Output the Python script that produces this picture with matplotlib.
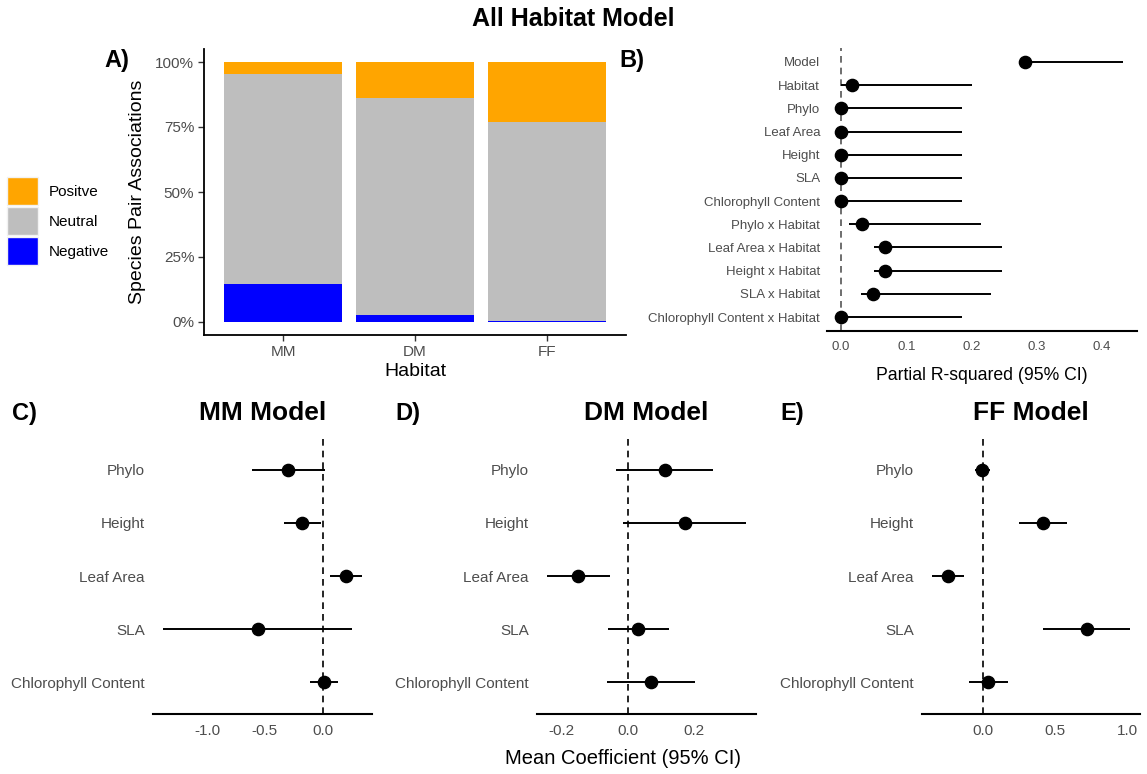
import numpy as np
import matplotlib.pyplot as plt
from matplotlib.patches import Patch

plt.rcParams['font.family'] = ['Liberation Sans', 'DejaVu Sans']

# ---- panel A data (percent of species pairs)
habitats = ["MM", "DM", "FF"]
negative = [14.6, 2.6, 0.4]
neutral = [80.8, 83.7, 76.4]
positive = [4.6, 13.7, 23.2]

# ---- panel B data (partial R-squared)
terms_all = ["Model", "Habitat", "Phylo", "Leaf Area", "Height", "SLA",
             "Chlorophyll Content", "Phylo x Habitat", "Leaf Area x Habitat",
             "Height x Habitat", "SLA x Habitat", "Chlorophyll Content x Habitat"]
r2_est = [0.282, 0.016, 0.0, 0.0, 0.0, 0.0, 0.0, 0.032, 0.068, 0.068, 0.049, 0.0]
r2_lo = [0.275, 0.0, 0.0, 0.0, 0.0, 0.0, 0.0, 0.012, 0.050, 0.050, 0.031, 0.0]
r2_hi = [0.432, 0.201, 0.186, 0.186, 0.186, 0.186, 0.186, 0.214, 0.246, 0.246, 0.230, 0.186]

# ---- panels C-E data (mean coefficient)
traits = ["Phylo", "Height", "Leaf Area", "SLA", "Chlorophyll Content"]
mm_est = [-0.298, -0.176, 0.200, -0.564, 0.006]
mm_lo = [-0.610, -0.335, 0.058, -1.380, -0.110]
mm_hi = [0.020, -0.017, 0.338, 0.251, 0.130]
dm_est = [0.112, 0.173, -0.150, 0.032, 0.071]
dm_lo = [-0.036, -0.013, -0.244, -0.061, -0.064]
dm_hi = [0.256, 0.357, -0.054, 0.123, 0.203]
ff_est = [-0.005, 0.413, -0.239, 0.718, 0.037]
ff_lo = [-0.055, 0.248, -0.349, 0.415, -0.096]
ff_hi = [0.053, 0.580, -0.131, 1.016, 0.174]

W, H = 1147, 774
GREY30 = "#4D4D4D"
fig = plt.figure(figsize=(W / 100, H / 100), dpi=100)


def box(x0, y0, x1, y1):
    # pixel box (top-left origin) -> figure fraction rect
    return [x0 / W, 1 - y1 / H, (x1 - x0) / W, (y1 - y0) / H]


def pad_range(lo, hi, frac=0.05):
    r = hi - lo
    return lo - frac * r, hi + frac * r


# ---------------- A) stacked bars
axA = fig.add_axes(box(204, 49, 626, 335))
x = np.arange(len(habitats))
axA.bar(x, negative, width=0.9, color="#0000FF", label="Negative")
axA.bar(x, neutral, width=0.9, bottom=negative, color="#BEBEBE", label="Neutral")
axA.bar(x, positive, width=0.9, bottom=np.add(negative, neutral), color="#FFA500", label="Positve")
axA.set_xlim(-0.6, len(habitats) - 0.4)
axA.set_ylim(-5, 105)
axA.set_xticks(x)
axA.set_xticklabels(habitats)
axA.set_yticks([0, 25, 50, 75, 100])
axA.set_yticklabels(["0%", "25%", "50%", "75%", "100%"])
for s in ["top", "right"]:
    axA.spines[s].set_visible(False)
for s in ["left", "bottom"]:
    axA.spines[s].set_linewidth(1.3)
axA.tick_params(labelsize=11, labelcolor=GREY30, length=4, width=1, color="#333333", pad=3)
axA.set_xlabel("Habitat", fontsize=14, va="center")
axA.xaxis.set_label_coords(0.5, -(372 - 335) / 286)
axA.set_ylabel("Species Pair Associations", fontsize=14, va="center")
axA.yaxis.set_label_coords(-(204 - 137) / 422, 0.5)

handles = [Patch(facecolor="#FFA500", edgecolor="#F2F2F2", label="Positve"),
           Patch(facecolor="#BEBEBE", edgecolor="#F2F2F2", label="Neutral"),
           Patch(facecolor="#0000FF", edgecolor="#F2F2F2", label="Negative")]
fig.legend(handles=handles, loc="center left", bbox_to_anchor=(7 / W, 1 - 221 / H),
           frameon=False, fontsize=11, handlelength=2.0, handleheight=2.45,
           labelspacing=0.12, handletextpad=0.75, borderpad=0, borderaxespad=0)


# ---------------- forest plot helper
def forest(ax, labels, est, lo, hi, ylab_size, tick_size, dash_color="black"):
    y = np.arange(len(labels))
    ax.axvline(0, color=dash_color, linestyle=(0, (4, 3)), linewidth=1.2, zorder=1)
    ax.hlines(y, lo, hi, color="black", linewidth=1.4, zorder=2)
    ax.plot(est, y, "o", color="black", markersize=8.8, zorder=3)
    ax.set_yticks(y)
    ax.set_yticklabels(labels)
    ax.set_ylim(len(labels) - 0.4, -0.6)
    ax.set_xlim(*pad_range(min(min(lo), 0), max(hi)))
    for s in ["top", "right", "left"]:
        ax.spines[s].set_visible(False)
    ax.spines["bottom"].set_linewidth(1.5)
    ax.tick_params(axis="y", length=0, pad=6, labelsize=ylab_size, labelcolor=GREY30)
    ax.tick_params(axis="x", length=0, pad=7, labelsize=tick_size, labelcolor=GREY30)


# ---------------- B) partial R-squared
axB = fig.add_axes(box(827, 48, 1137, 331))
forest(axB, terms_all, r2_est, r2_lo, r2_hi, 9.5, 9.5, dash_color="#555555")
axB.set_xticks([0, 0.1, 0.2, 0.3, 0.4])
axB.tick_params(axis="y", pad=5)
axB.set_xlabel("Partial R-squared (95% CI)", fontsize=12.7, va="center")
axB.xaxis.set_label_coords(0.5, -(375 - 331) / 283)

# ---------------- C-E) habitat models
panels = [
    (153, 372, "MM Model", mm_est, mm_lo, mm_hi, [-1.0, -0.5, 0.0]),
    (537, 756, "DM Model", dm_est, dm_lo, dm_hi, [-0.2, 0.0, 0.2]),
    (922, 1140, "FF Model", ff_est, ff_lo, ff_hi, [0.0, 0.5, 1.0]),
]
for x0, x1, title, est, lo, hi, ticks in panels:
    ax = fig.add_axes(box(x0, 438, x1, 714))
    forest(ax, traits, est, lo, hi, 11, 11)
    ax.set_xticks(ticks)
    ax.set_xticklabels([f"{t:.1f}" for t in ticks])
    ax.text(0.5, 1 + 25 / 276, title, transform=ax.transAxes, ha="center", va="center",
            fontsize=19, fontweight="bold")

fig.text(623 / W, 1 - 758 / H, "Mean Coefficient (95% CI)", ha="center", va="center", fontsize=14.5)

# ---------------- titles and panel tags
fig.text(0.5, 1 - 19 / H, "All Habitat Model", ha="center", va="center", fontsize=18, fontweight="bold")
for tag, px, py in [("A)", 104, 60), ("B)", 619, 61), ("C)", 12, 414), ("D)", 395, 414), ("E)", 780, 414)]:
    fig.text(px / W, 1 - py / H, tag, ha="left", va="center", fontsize=17, fontweight="bold")

fig.savefig("out.png", dpi=100)
